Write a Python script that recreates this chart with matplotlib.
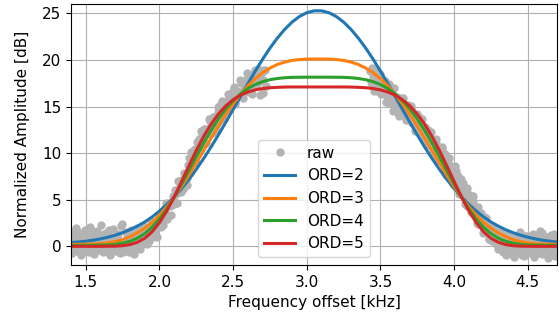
import numpy as np
import matplotlib
matplotlib.use("Agg")
import matplotlib.pyplot as plt

# raw samples (two measured flanks of the passband)
raw_x_left = np.round(np.arange(1.40, 2.725, 0.01), 2)
raw_y_left = [
    0.6, -0.3, 1.1, 0.2, -0.5, 0.9, 1.4, 0.0, 0.5, -0.2,
    1.2, 0.3, -0.6, 0.8, 0.1, 1.5, -0.1, 0.4, 1.0, -0.4,
    0.7, 0.2, 1.3, -0.5, 0.6, 0.0, 1.8, 0.3, -0.3, 0.9,
    0.1, 1.1, -0.2, 0.5, 2.2, -0.6, 0.4, 0.8, 0.0, 1.2,
    -0.4, 0.6, 1.4, 0.2, 0.9, -0.1, 1.9, 0.5, 0.3, 1.3,
    0.5, 1.6, 1.2, 0.6, 1.7, 2.5, 1.5, 1.4, 2.4, 2.2,
    3.2, 2.1, 3.1, 2.9, 4.1, 2.9, 4.4, 4.3, 4.4, 5.4,
    4.5, 5.6, 4.7, 6.3, 7.0, 6.3, 6.2, 7.7, 7.4, 7.3,
    9.5, 8.6, 9.4, 8.9, 10.4, 10.3, 10.0, 11.5, 10.9, 11.9,
    11.0, 12.6, 12.3, 12.0, 13.5, 12.9, 12.6, 13.9, 13.8, 13.1,
    14.4, 15.2, 14.2, 14.2, 15.5, 15.1, 14.5, 15.9, 15.8, 15.4,
    16.7, 15.5, 16.6, 16.5, 16.3, 17.5, 16.1, 17.5, 17.1, 16.8,
    18.2, 17.2, 17.9, 17.0, 18.4, 17.9, 17.4, 19.0, 17.7, 18.6,
    16.5, 18.9, 17.2,
]
raw_x_left2 = np.round(np.arange(1.405, 2.72, 0.01), 3)
raw_y_left2 = [
    -0.7, 1.5, 0.3, 2.0, -0.2, 0.8, -0.9, 1.2, 0.4, 1.7,
    -0.5, 0.6, 2.1, 0.0, 1.0, -0.8, 0.5, 1.6, -0.3, 0.9,
    2.3, -0.6, 0.2, 1.4, -0.1, 1.1, -0.9, 0.7, 1.9, 0.1,
    -0.5, 1.3, 0.6, -0.7, 2.4, 0.3, -0.2, 1.5, 0.8, -0.6,
    1.7, 0.0, -0.8, 1.1, 2.0, 0.4, -0.3, 1.4, 0.9, 2.2,
    2.0, 0.2, 1.6, 1.0, 2.7, 1.0, 1.8, 2.6, 1.0, 2.8,
    2.3, 3.7, 2.3, 3.6, 4.6, 3.3, 4.7, 3.4, 4.8, 4.5,
    6.0, 4.7, 7.0, 6.1, 5.8, 7.1, 7.9, 7.0, 6.6, 8.7,
    7.9, 10.1, 9.0, 10.3, 9.0, 11.2, 10.7, 10.4, 12.4, 11.4,
    12.6, 11.1, 12.6, 13.7, 12.4, 12.2, 13.9, 13.7, 12.5, 14.9,
    13.5, 14.8, 15.6, 13.7, 15.2, 14.8, 16.3, 14.8, 16.2, 15.7,
    17.1, 15.3, 16.7, 16.0, 17.8, 16.6, 15.9, 17.7, 17.3, 18.6,
    16.6, 18.4, 16.3, 18.1, 18.9, 17.2, 18.1, 18.9, 16.2, 18.7,
    17.8, 18.9,
]
raw_x_right = np.round(np.arange(3.43, 4.705, 0.01), 2)
raw_y_right = [
    18.8, 17.4, 18.2, 18.8, 17.3, 17.6, 16.6, 17.9, 17.5, 16.8,
    17.7, 16.2, 16.7, 15.4, 16.6, 16.8, 14.6, 15.2, 15.8, 14.3,
    15.2, 14.4, 15.5, 15.1, 14.3, 15.1, 13.6, 14.1, 14.8, 13.5,
    14.1, 12.7, 13.4, 13.9, 12.4, 12.6, 11.5, 12.8, 12.3, 11.6,
    12.3, 10.8, 11.2, 9.9, 11.1, 11.1, 9.9, 9.4, 10.0, 10.5,
    9.2, 8.2, 9.3, 8.8, 7.9, 8.6, 7.1, 7.5, 8.1, 6.8,
    7.2, 5.8, 6.4, 6.8, 5.3, 5.4, 4.3, 5.5, 4.9, 4.2,
    4.9, 3.4, 3.7, 2.4, 3.5, 3.6, 2.3, 1.8, 2.4, 3.0,
    1.7, 0.8, 1.9, 1.6, 0.7, 1.6, 0.1, 0.7, 1.5, 0.3,
    1.0, -0.3, 0.5, 1.0, -0.3, 0.2, -0.8, 0.6, 0.1, -0.5,
    0.9, -0.1, 0.4, -0.9, 0.3, 1.1, -0.4, 0.0, 0.7, -0.6,
    0.2, 1.2, -0.2, 0.5, -0.7, 0.8, 0.1, 1.4, -0.3, 0.6,
    -0.5, 1.0, 0.2, -0.8, 0.4, 1.3, -0.1, 0.5,
]
raw_x_right2 = np.round(np.arange(3.435, 4.70, 0.01), 3)
raw_y_right2 = [
    17.6, 19.1, 16.7, 18.1, 18.4, 17.1, 18.5, 16.3, 17.1, 17.5,
    15.5, 17.0, 17.4, 15.6, 16.3, 14.5, 17.0, 15.4, 16.0, 14.0,
    15.9, 14.2, 15.9, 14.5, 13.6, 15.2, 13.7, 15.1, 13.2, 14.0,
    12.4, 14.2, 12.9, 13.5, 11.8, 13.7, 11.9, 12.4, 10.9, 12.5,
    11.1, 12.3, 10.2, 11.0, 11.5, 9.2, 10.6, 9.3, 10.7, 9.1,
    9.9, 7.7, 9.1, 9.5, 7.5, 8.1, 6.7, 8.6, 6.7, 7.5,
    5.6, 7.2, 5.9, 6.3, 4.5, 6.3, 4.5, 5.5, 3.7, 5.4,
    3.7, 4.1, 2.5, 4.2, 2.4, 3.1, 1.4, 3.1, 1.7, 2.5,
    0.8, 1.8, 0.6, 2.2, 0.6, 1.1, -0.3, 1.5, 0.0, 0.9,
    -0.6, 1.4,
    -0.9, 0.6, 1.3, -0.2, 0.3, -1.1, 0.9, 0.1, -0.6, 1.5,
    -0.4, 0.7, -1.0, 0.2, 1.1, -0.7, 0.4, -0.1, 1.3, -1.1,
    0.8, 0.0, -0.5, 1.6, -0.8, 0.5, 1.0, -0.3, -1.2, 0.7,
    1.2, -0.6, 0.3, -1.0, 0.9,
]

# fitted super-gaussian curves
fit_x = np.round(np.arange(1.40, 4.725, 0.05), 2)
fit_ord2 = [
    0.42, 0.47, 0.55, 0.66, 0.80, 0.98, 1.20, 1.47, 1.79, 2.17,
    2.62, 3.16, 3.79, 4.50, 5.30, 6.20, 7.19, 8.27, 9.43, 10.66,
    11.96, 13.31, 14.69, 16.08, 17.46, 18.80, 20.08, 21.27, 22.34, 23.28,
    24.06, 24.66, 25.07, 25.27,
    25.27, 25.07, 24.66, 24.06, 23.28, 22.34, 21.27, 20.08, 18.80, 17.46,
    16.08, 14.69, 13.31, 11.96, 10.66, 9.43, 8.27, 7.19, 6.20, 5.30,
    4.50, 3.79, 3.16, 2.62, 2.17, 1.79, 1.47, 1.20, 0.98, 0.80,
    0.66, 0.55, 0.47,
]
fit_ord3 = [
    0.21, 0.22, 0.24, 0.26, 0.30, 0.38, 0.52, 0.72, 1.04, 1.44,
    1.95, 2.58, 3.35, 4.25, 5.28, 6.42, 7.65, 8.94, 10.27, 11.60,
    12.90, 14.13, 15.28, 16.31, 17.22, 17.99, 18.63, 19.13, 19.51, 19.77,
    19.95, 20.04, 20.09, 20.10,
    20.10, 20.09, 20.04, 19.95, 19.77, 19.51, 19.13, 18.63, 17.99, 17.22,
    16.31, 15.28, 14.13, 12.90, 11.60, 10.27, 8.94, 7.65, 6.42, 5.28,
    4.25, 3.35, 2.58, 1.95, 1.44, 1.04, 0.72, 0.52, 0.38, 0.30,
    0.26, 0.24, 0.22,
]
fit_ord4 = [
    0.10, 0.10, 0.11, 0.12, 0.13, 0.16, 0.22, 0.34, 0.55, 0.88,
    1.37, 2.06, 2.94, 4.02, 5.28, 6.68, 8.15, 9.64, 11.09, 12.44,
    13.67, 14.74, 15.63, 16.36, 16.93, 17.36, 17.67, 17.88, 18.01, 18.09,
    18.13, 18.14, 18.15, 18.15,
    18.15, 18.15, 18.14, 18.13, 18.09, 18.01, 17.88, 17.67, 17.36, 16.93,
    16.36, 15.63, 14.74, 13.67, 12.44, 11.09, 9.64, 8.15, 6.68, 5.28,
    4.02, 2.94, 2.06, 1.37, 0.88, 0.55, 0.34, 0.22, 0.16, 0.13,
    0.12, 0.11, 0.10,
]
fit_ord5 = [
    0.00, 0.00, 0.00, 0.00, 0.00, 0.01, 0.02, 0.07, 0.19, 0.44,
    0.87, 1.57, 2.55, 3.81, 5.31, 6.96, 8.66, 10.30, 11.80, 13.11,
    14.20, 15.07, 15.73, 16.22, 16.56, 16.79, 16.93, 17.02, 17.06, 17.09,
    17.10, 17.10, 17.10, 17.10,
    17.10, 17.10, 17.10, 17.10, 17.09, 17.06, 17.02, 16.93, 16.79, 16.56,
    16.22, 15.73, 15.07, 14.20, 13.11, 11.80, 10.30, 8.66, 6.96, 5.31,
    3.81, 2.55, 1.57, 0.87, 0.44, 0.19, 0.07, 0.02, 0.01, 0.00,
    0.00, 0.00, 0.00,
]
fits = [("ORD=2", fit_ord2), ("ORD=3", fit_ord3), ("ORD=4", fit_ord4), ("ORD=5", fit_ord5)]

fig = plt.figure(figsize=(5.6, 3.21), dpi=100)
ax = fig.add_axes([0.127, 0.1745, 0.868, 0.813])

raw_x = np.concatenate([raw_x_left, raw_x_left2, raw_x_right, raw_x_right2])
raw_y = raw_y_left + raw_y_left2 + raw_y_right + raw_y_right2
ax.plot(raw_x, raw_y, "o", color="#b3b3b3", ms=5, label="raw")
for name, vals in fits:
    ax.plot(fit_x, vals, lw=2.2, label=name)

ax.set_xlim(1.4, 4.7)
ax.set_ylim(-2, 26)
ax.set_xticks([1.5, 2.0, 2.5, 3.0, 3.5, 4.0, 4.5])
ax.set_yticks([0, 5, 10, 15, 20, 25])
ax.tick_params(labelsize=11)
ax.grid(True)
ax.set_xlabel("Frequency offset [kHz]", fontsize=11)
ax.set_ylabel("Normalized Amplitude [dB]", fontsize=11, labelpad=9)
ax.legend(loc="lower center", fontsize=11)

fig.savefig("out.png", dpi=100)
